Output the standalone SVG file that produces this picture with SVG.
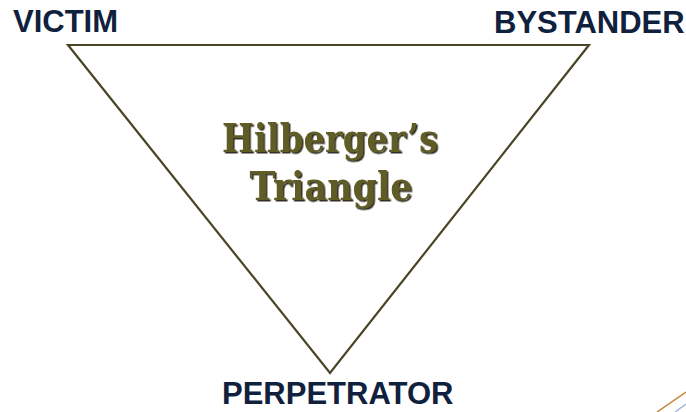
<svg xmlns="http://www.w3.org/2000/svg" width="686" height="412" viewBox="0 0 686 412">
<defs>
<filter id="shadow" x="-10%" y="-20%" width="120%" height="140%">
<feDropShadow dx="1.5" dy="1.5" stdDeviation="0.6" flood-color="#1a1808" flood-opacity="0.9"/>
</filter>
</defs>
<style>
.lbl{font-family:"Liberation Sans",Arial,sans-serif;font-weight:bold;font-size:31px;fill:#0f213d}
.title{font-family:"DejaVu Serif","Liberation Serif",serif;font-weight:bold;font-size:40px;text-anchor:middle;fill:#5f5b26;filter:url(#shadow)}
</style>
<rect width="686" height="412" fill="#ffffff"/>
<g id="triangle">
<polygon points="68,45 589,45 330,373" fill="none" stroke="#4a4526" stroke-width="2.2"/>
</g>
<g id="title">
<text class="title" x="330" y="152" textLength="216" lengthAdjust="spacingAndGlyphs">Hilberger’s</text>
<text class="title" x="331" y="200" textLength="163" lengthAdjust="spacingAndGlyphs">Triangle</text>
</g>
<g id="victim"><text class="lbl" x="13" y="32">VICTIM</text></g>
<g id="bystander"><text class="lbl" x="494" y="33">BYSTANDER</text></g>
<g id="perpetrator"><text class="lbl" x="222" y="404" font-size="30">PERPETRATOR</text></g>
<g id="corner">
<line x1="657" y1="412" x2="686" y2="392" stroke="#c8843c" stroke-width="1.5"/>
<line x1="675" y1="412" x2="686" y2="404" stroke="#9fb8d8" stroke-width="1.5"/>
</g>
</svg>
